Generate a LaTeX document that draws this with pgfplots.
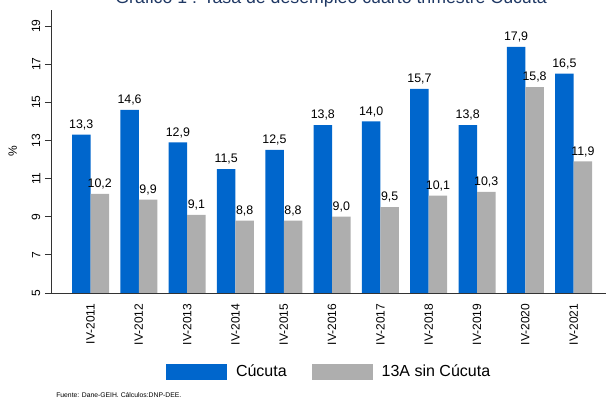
\documentclass[border=0pt]{standalone}
\usepackage{fontspec}
\setmainfont{Liberation Sans}
\usepackage{pgfplots}
\pgfplotsset{compat=1.18}

\definecolor{cucuta}{RGB}{0,102,204}
\definecolor{sincucuta}{RGB}{174,174,174}
\definecolor{titulo}{RGB}{31,56,100}

\begin{document}
\begin{tikzpicture}
\begin{axis}[
    at={(0,0)}, anchor=south west,
    scale only axis, width=416.25pt, height=212.25pt,
    ybar=0pt, bar width=0.383,
    xmin=-0.818, xmax=10.67, ymin=5, ymax=19.84,
    clip=false,
    axis lines*=left,
    axis line style={-, line width=0.6pt, black!80},
    xtick=data,
    xticklabels={IV-2011,IV-2012,IV-2013,IV-2014,IV-2015,IV-2016,IV-2017,IV-2018,IV-2019,IV-2020,IV-2021},
    xtick style={draw=none},
    ytick={5,7,...,19},
    tick align=outside, major tick length=4.5pt,
    ytick style={line width=0.6pt, black!80},
    /pgf/number format/assume math mode=true,
    tick label style={font=\fontsize{9}{10}\selectfont},
    xticklabel style={rotate=90, anchor=east},
    yticklabel style={rotate=90, anchor=south},
    ylabel={\%},
    ylabel style={at={(axis description cs:-0.069,0.5)}, anchor=center, font=\fontsize{9}{10}\selectfont},
    nodes near coords={\pgfmathprintnumber[fixed,fixed zerofill,precision=1,use comma,assume math mode=true]{\pgfplotspointmeta}},
    nodes near coords style={font=\fontsize{9.3}{10}\selectfont, text=black},
    legend columns=-1,
    legend style={at={(0.502,-0.279)}, anchor=center, draw=none,
        font=\fontsize{12}{14}\selectfont,
        /tikz/every odd column/.append style={column sep=4.5pt},
        /tikz/every even column/.append style={column sep=17pt}},
]
\addplot[fill=cucuta, draw=none,
    legend image code/.code={\fill[cucuta] (0pt,-6pt) rectangle (45.75pt,6pt);}]
    coordinates {(0,13.3) (1,14.6) (2,12.9) (3,11.5) (4,12.5) (5,13.8)
                 (6,14.0) (7,15.7) (8,13.8) (9,17.9) (10,16.5)};
\addlegendentry{Cúcuta}
\addplot[fill=sincucuta, draw=none,
    legend image code/.code={\fill[sincucuta] (0pt,-6pt) rectangle (45.75pt,6pt);}]
    coordinates {(0,10.2) (1,9.9) (2,9.1) (3,8.8) (4,8.8) (5,9.0)
                 (6,9.5) (7,10.1) (8,10.3) (9,15.8) (10,11.9)};
\addlegendentry{13A sin Cúcuta}
\end{axis}
% title is cut off at the top edge, as in the reference
\node[anchor=base, font=\fontsize{13.3}{15}\selectfont, text=titulo]
    at (210pt,216.75pt) {Gráfico 1 : Tasa de desempleo cuarto trimestre Cúcuta};
\node[anchor=base west, inner sep=0pt, font=\fontsize{5.1}{6}\selectfont]
    at (3.75pt,-78.75pt) {Fuente: Dane-GEIH. Cálculos:DNP-DEE.};
\pgfresetboundingbox
\useasboundingbox (-38.25pt,-81.75pt) rectangle (416.25pt,219.75pt);
\end{tikzpicture}
\end{document}
